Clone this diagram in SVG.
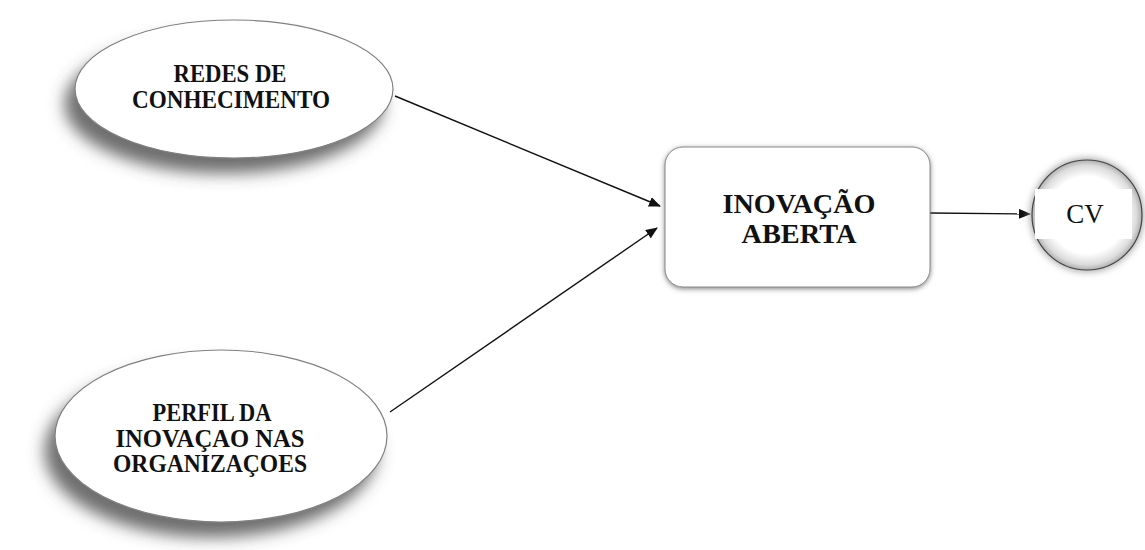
<svg xmlns="http://www.w3.org/2000/svg" width="1145" height="550" viewBox="0 0 1145 550">
  <style>
    .lbl { font-family: "Liberation Serif", "Times New Roman", serif; fill: #111; text-anchor: middle; }
    .b { font-weight: bold; }
    .edge { stroke: #111; stroke-width: 1.4; fill: none; marker-end: url(#arrow); }
    .oval { fill: #fff; stroke: #808080; stroke-width: 1.2; filter: url(#softShadow); }
  </style>
  <defs>
    <marker id="arrow" viewBox="0 0 12 10" refX="11" refY="5" markerWidth="12" markerHeight="10" markerUnits="userSpaceOnUse" orient="auto">
      <path d="M0,0 L12,5 L0,10 Z" fill="#111"/>
    </marker>
    <filter id="softShadow" x="-25%" y="-25%" width="150%" height="170%">
      <feDropShadow dx="-10" dy="15" stdDeviation="8" flood-color="#4a4a4a" flood-opacity="0.8"/>
    </filter>
    <filter id="boxShadow" x="-10%" y="-10%" width="120%" height="125%">
      <feDropShadow dx="0" dy="1.5" stdDeviation="2.5" flood-color="#555" flood-opacity="0.7"/>
    </filter>
    <filter id="glow" x="-30%" y="-30%" width="160%" height="160%">
      <feGaussianBlur stdDeviation="3.5"/>
    </filter>
    <radialGradient id="ringFill" cx="0.5" cy="0.5" r="0.5">
      <stop offset="0.7" stop-color="#fff"/>
      <stop offset="0.9" stop-color="#dcdcdc"/>
      <stop offset="1" stop-color="#b0b0b0"/>
    </radialGradient>
  </defs>

  <g id="connectors">
    <line class="edge" x1="395" y1="96" x2="660" y2="206"/>
    <line class="edge" x1="390" y1="412" x2="657" y2="228"/>
    <line class="edge" x1="930" y1="213" x2="1030" y2="214"/>
  </g>

  <g id="redes-de-conhecimento">
    <ellipse class="oval" cx="234" cy="89" rx="159" ry="69"/>
    <text class="lbl b" x="230" y="82" font-size="25" textLength="113" lengthAdjust="spacingAndGlyphs">REDES DE</text>
    <text class="lbl b" x="231" y="108" font-size="25" textLength="198" lengthAdjust="spacingAndGlyphs">CONHECIMENTO</text>
  </g>

  <g id="perfil-da-inovacao">
    <ellipse class="oval" cx="221" cy="436" rx="166" ry="86"/>
    <text class="lbl b" x="212" y="421" font-size="25" textLength="119" lengthAdjust="spacingAndGlyphs">PERFIL DA</text>
    <text class="lbl b" x="210" y="447" font-size="25" textLength="189" lengthAdjust="spacingAndGlyphs">INOVAÇAO NAS</text>
    <text class="lbl b" x="210" y="472" font-size="25" textLength="194" lengthAdjust="spacingAndGlyphs">ORGANIZAÇOES</text>
  </g>

  <g id="inovacao-aberta">
    <rect x="665" y="147" width="265" height="140" rx="18" ry="18" fill="#fff" stroke="#888" stroke-width="1" filter="url(#boxShadow)"/>
    <text class="lbl b" x="799" y="213" font-size="27" textLength="153" lengthAdjust="spacingAndGlyphs">INOVAÇÃO</text>
    <text class="lbl b" x="799" y="243" font-size="27" textLength="115" lengthAdjust="spacingAndGlyphs">ABERTA</text>
  </g>

  <g id="cv">
    <circle cx="1087" cy="215" r="57" fill="#aaa" filter="url(#glow)"/>
    <circle cx="1087" cy="215" r="55" fill="url(#ringFill)" stroke="#444" stroke-width="1.2"/>
    <rect x="1035" y="189" width="97" height="50" fill="#fff"/>
    <text class="lbl" x="1085" y="223" font-size="27">CV</text>
  </g>
</svg>
